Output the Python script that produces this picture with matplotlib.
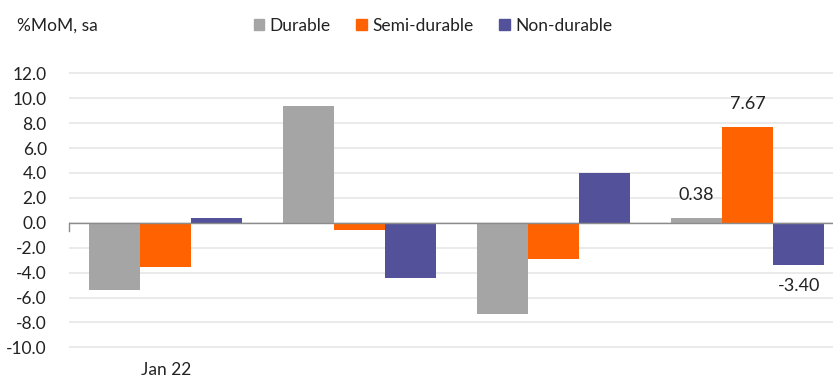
import matplotlib.pyplot as plt
from matplotlib.patches import Patch
import numpy as np

plt.rcParams['font.family'] = ['Lato', 'DejaVu Sans']

categories = ['Jan 22', '', '', '']
durable = [-5.38, 9.34, -7.30, 0.38]
semi_durable = [-3.52, -0.60, -2.88, 7.67]
non_durable = [0.35, -4.45, 3.98, -3.40]
series_names = ['Durable', 'Semi-durable', 'Non-durable']
colors = ['#A5A5A5', '#FF6200', '#525199']
yticks = np.arange(-10, 13, 2)

fig = plt.figure(figsize=(8.34, 3.81), dpi=100)
ax = fig.add_axes([69 / 834, 1 - 348 / 381, (833 - 69) / 834, (348 - 72) / 381])

x = np.arange(len(categories))
w = 0.263
for i, (vals, c) in enumerate(zip([durable, semi_durable, non_durable], colors)):
    ax.bar(x + (i - 1) * w, vals, width=w, color=c, zorder=3)

ax.set_xlim(-0.5, 3.44)
ax.set_ylim(-10.05, 12.1)
ax.set_yticks(yticks)
ax.set_yticklabels([f'{v:.1f}' for v in yticks], fontsize=12.5, color='#222222')
ax.set_xticks(x)
ax.set_xticklabels(categories, fontsize=12.5, color='#222222')
ax.tick_params(axis='y', length=0, pad=16)
ax.tick_params(axis='x', length=0, pad=10)
for s in ax.spines.values():
    s.set_visible(False)
ax.grid(axis='y', color='#E6E6E6', linewidth=1.2, zorder=0)
ax.axhline(0, color='#8C8C8C', linewidth=1.0, zorder=4)
ax.plot([-0.5, -0.5], [0, -0.7], color='#8C8C8C', linewidth=1.0, clip_on=False)

# data labels on last group
ax.text(x[3] - w, durable[3] + 1.2, f'{durable[3]:.2f}', ha='center', va='bottom', fontsize=13, color='#222222')
ax.text(x[3], semi_durable[3] + 1.2, f'{semi_durable[3]:.2f}', ha='center', va='bottom', fontsize=13, color='#222222')
ax.text(x[3] + w, non_durable[3] - 1.0, f'{non_durable[3]:.2f}', ha='center', va='top', fontsize=13, color='#222222')

fig.text(17 / 834, 1 - 26 / 381, '%MoM, sa', fontsize=12.5, color='#222222', va='center')
handles = [Patch(color=c, label=n) for c, n in zip(colors, series_names)]
fig.legend(handles=handles, loc='center left', bbox_to_anchor=(238 / 834, 1 - 26 / 381), ncol=3,
           frameon=False, fontsize=12.5, handlelength=0.6, handleheight=0.6, handletextpad=0.3,
           columnspacing=1.5, labelcolor='#222222')

fig.savefig('out.png', dpi=100)
